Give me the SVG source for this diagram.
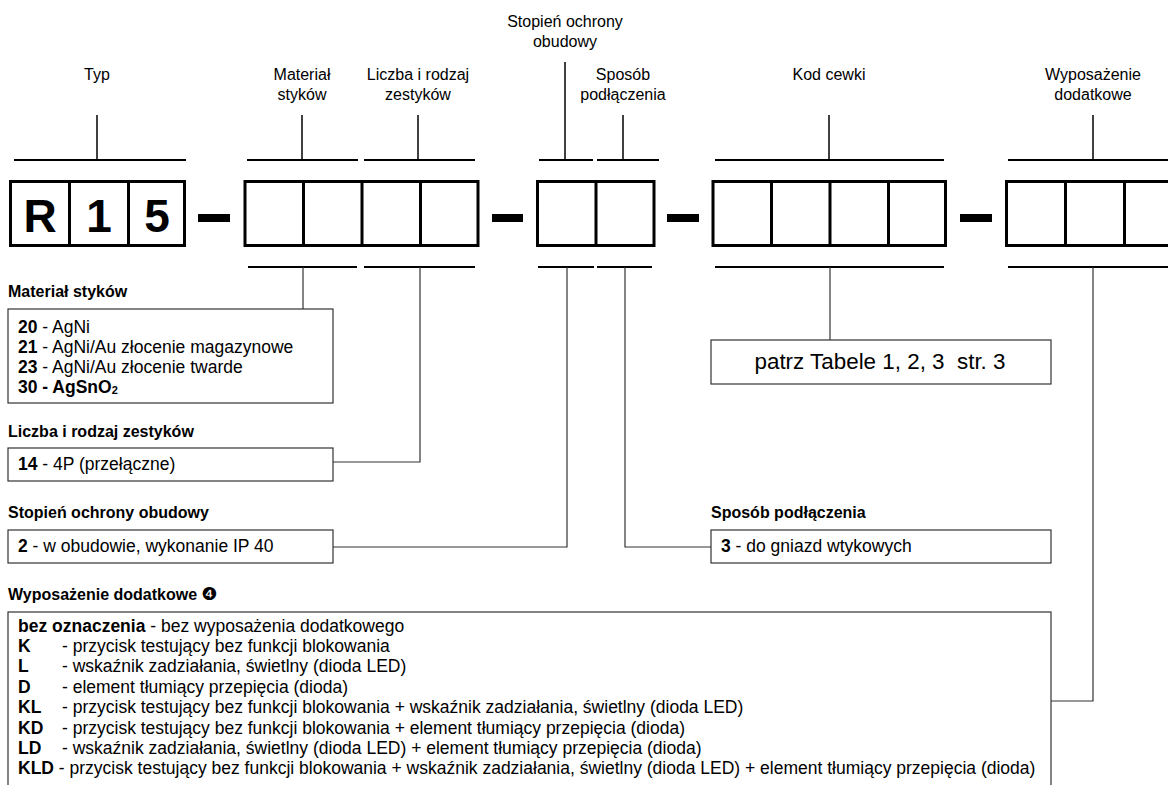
<svg xmlns="http://www.w3.org/2000/svg" width="1168" height="785" viewBox="0 0 1168 785">
<style>
text{font-family:"Liberation Sans",Arial,sans-serif;fill:#000}
.lbl{font-size:16px;text-anchor:middle}
.ttl{font-size:16px;font-weight:bold}
.body{font-size:17.5px}
.b{font-weight:bold}
.big{font-size:46px;font-weight:bold;text-anchor:middle}
.cell{fill:none;stroke:#000;stroke-width:3}
.div{stroke:#000;stroke-width:3}
.bar{stroke:#000;stroke-width:2}
.stub{stroke:#000;stroke-width:1.5}
.con{fill:none;stroke:#333;stroke-width:1.2}
.tbox{fill:#fff;stroke:#333;stroke-width:1.2}
.dash{fill:#000}
</style>
<rect width="1168" height="785" fill="#fff"/>

<g id="code">
  <g id="cells-type">
    <rect class="cell" x="10.5" y="181.5" width="174" height="64"/>
    <line class="div" x1="69.5" y1="181.5" x2="69.5" y2="245.5"/>
    <line class="div" x1="128.5" y1="181.5" x2="128.5" y2="245.5"/>
    <text class="big" x="40" y="231.5">R</text>
    <text class="big" x="99" y="231.5">1</text>
    <text class="big" x="157" y="231.5">5</text>
  </g>
  <rect class="dash" x="198" y="214" width="32" height="8"/>
  <g id="cells-material-liczba">
    <rect class="cell" x="245" y="181.5" width="233" height="64"/>
    <line class="div" x1="303.5" y1="181.5" x2="303.5" y2="245.5"/>
    <line class="div" x1="362" y1="181.5" x2="362" y2="245.5"/>
    <line class="div" x1="420.5" y1="181.5" x2="420.5" y2="245.5"/>
  </g>
  <rect class="dash" x="492" y="214" width="31" height="8"/>
  <g id="cells-stopien-sposob">
    <rect class="cell" x="537.5" y="181.5" width="116.5" height="64"/>
    <line class="div" x1="596" y1="181.5" x2="596" y2="245.5"/>
  </g>
  <rect class="dash" x="667" y="214" width="32" height="8"/>
  <g id="cells-kod">
    <rect class="cell" x="713" y="181.5" width="232.5" height="64"/>
    <line class="div" x1="771.5" y1="181.5" x2="771.5" y2="245.5"/>
    <line class="div" x1="830" y1="181.5" x2="830" y2="245.5"/>
    <line class="div" x1="888.5" y1="181.5" x2="888.5" y2="245.5"/>
  </g>
  <rect class="dash" x="960" y="214" width="32" height="8"/>
  <g id="cells-wyposazenie">
    <rect class="cell" x="1006.5" y="181.5" width="177" height="64"/>
    <line class="div" x1="1065.5" y1="181.5" x2="1065.5" y2="245.5"/>
    <line class="div" x1="1124.5" y1="181.5" x2="1124.5" y2="245.5"/>
  </g>
</g>

<g id="top-labels">
  <g id="lbl-typ">
    <text class="lbl" x="97" y="80">Typ</text>
    <line class="stub" x1="97" y1="115" x2="97" y2="160"/>
    <line class="bar" x1="14" y1="160" x2="186" y2="160"/>
  </g>
  <g id="lbl-material">
    <text class="lbl" x="302" y="80">Materiał</text>
    <text class="lbl" x="302" y="100">styków</text>
    <line class="stub" x1="302" y1="115" x2="302" y2="160"/>
    <line class="bar" x1="247" y1="160" x2="358" y2="160"/>
  </g>
  <g id="lbl-liczba">
    <text class="lbl" x="418" y="80">Liczba i rodzaj</text>
    <text class="lbl" x="418" y="100">zestyków</text>
    <line class="stub" x1="418" y1="115" x2="418" y2="160"/>
    <line class="bar" x1="364" y1="160" x2="475" y2="160"/>
  </g>
  <g id="lbl-stopien">
    <text class="lbl" x="565" y="27">Stopień ochrony</text>
    <text class="lbl" x="565" y="47">obudowy</text>
    <line class="stub" x1="565" y1="62" x2="565" y2="160"/>
    <line class="bar" x1="539" y1="160" x2="593" y2="160"/>
  </g>
  <g id="lbl-sposob">
    <text class="lbl" x="623" y="80">Sposób</text>
    <text class="lbl" x="623" y="100">podłączenia</text>
    <line class="stub" x1="623" y1="115" x2="623" y2="160"/>
    <line class="bar" x1="597" y1="160" x2="659" y2="160"/>
  </g>
  <g id="lbl-kod">
    <text class="lbl" x="829" y="80">Kod cewki</text>
    <line class="stub" x1="829" y1="115" x2="829" y2="160"/>
    <line class="bar" x1="715" y1="160" x2="944" y2="160"/>
  </g>
  <g id="lbl-wyposazenie">
    <text class="lbl" x="1093" y="80">Wyposażenie</text>
    <text class="lbl" x="1093" y="100">dodatkowe</text>
    <line class="stub" x1="1093" y1="115" x2="1093" y2="160"/>
    <line class="bar" x1="1008" y1="160" x2="1168" y2="160"/>
  </g>
</g>

<g id="connectors">
  <line class="bar" x1="248" y1="267" x2="357" y2="267"/>
  <line class="bar" x1="364" y1="267" x2="475" y2="267"/>
  <line class="bar" x1="538" y1="267" x2="594" y2="267"/>
  <line class="bar" x1="597" y1="267" x2="652" y2="267"/>
  <line class="bar" x1="715" y1="267" x2="944" y2="267"/>
  <line class="bar" x1="1008" y1="267" x2="1168" y2="267"/>
  <polyline class="con" points="303,267 303,309"/>
  <polyline class="con" points="420,267 420,462 333,462"/>
  <polyline class="con" points="567,267 567,547 333,547"/>
  <polyline class="con" points="625,267 625,547 711,547"/>
  <polyline class="con" points="830,267 830,340"/>
  <polyline class="con" points="1093,267 1093,701 1051,701"/>
</g>

<g id="box-material">
  <text class="ttl" x="8" y="297">Materiał styków</text>
  <rect class="tbox" x="8" y="309" width="325" height="94"/>
  <text class="body" x="18" y="333"><tspan class="b">20</tspan> - AgNi</text>
  <text class="body" x="18" y="353"><tspan class="b">21</tspan> - AgNi/Au złocenie magazynowe</text>
  <text class="body" x="18" y="373"><tspan class="b">23</tspan> - AgNi/Au złocenie twarde</text>
  <text class="body b" x="18" y="393">30 - AgSnO<tspan font-size="11" dy="1">2</tspan></text>
</g>

<g id="box-liczba">
  <text class="ttl" x="8" y="437">Liczba i rodzaj zestyków</text>
  <rect class="tbox" x="8" y="448" width="325" height="33"/>
  <text class="body" x="18" y="470"><tspan class="b">14</tspan> - 4P (przełączne)</text>
</g>

<g id="box-stopien">
  <text class="ttl" x="8" y="518">Stopień ochrony obudowy</text>
  <rect class="tbox" x="8" y="530" width="325" height="33"/>
  <text class="body" x="18" y="552"><tspan class="b">2</tspan> - w obudowie, wykonanie IP 40</text>
</g>

<g id="box-kod">
  <rect class="tbox" x="711" y="340" width="340" height="44"/>
  <text x="880" y="369" font-size="22.4" text-anchor="middle" xml:space="preserve">patrz Tabele 1, 2, 3  str. 3</text>
</g>

<g id="box-sposob">
  <text class="ttl" x="711" y="518">Sposób podłączenia</text>
  <rect class="tbox" x="711" y="530" width="340" height="33"/>
  <text class="body" x="721" y="552"><tspan class="b">3</tspan> - do gniazd wtykowych</text>
</g>

<g id="box-wyposazenie">
  <text class="ttl" x="8" y="600">Wyposażenie dodatkowe <tspan font-family="DejaVu Sans" font-size="18" font-weight="normal">❹</tspan></text>
  <rect class="tbox" x="8" y="612" width="1043" height="190"/>
  <text class="body" x="18" y="632"><tspan class="b">bez oznaczenia</tspan> - bez wyposażenia dodatkowego</text>
  <text class="body" y="652"><tspan class="b" x="18">K</tspan><tspan x="62">- przycisk testujący bez funkcji blokowania</tspan></text>
  <text class="body" y="672"><tspan class="b" x="18">L</tspan><tspan x="62">- wskaźnik zadziałania, świetlny (dioda LED)</tspan></text>
  <text class="body" y="693"><tspan class="b" x="18">D</tspan><tspan x="62">- element tłumiący przepięcia (dioda)</tspan></text>
  <text class="body" y="713"><tspan class="b" x="18">KL</tspan><tspan x="62">- przycisk testujący bez funkcji blokowania + wskaźnik zadziałania, świetlny (dioda LED)</tspan></text>
  <text class="body" y="734"><tspan class="b" x="18">KD</tspan><tspan x="62">- przycisk testujący bez funkcji blokowania + element tłumiący przepięcia (dioda)</tspan></text>
  <text class="body" y="754"><tspan class="b" x="18">LD</tspan><tspan x="62">- wskaźnik zadziałania, świetlny (dioda LED) + element tłumiący przepięcia (dioda)</tspan></text>
  <text class="body" x="18" y="774"><tspan class="b">KLD</tspan> - przycisk testujący bez funkcji blokowania + wskaźnik zadziałania, świetlny (dioda LED) + element tłumiący przepięcia (dioda)</text>
</g>
</svg>
